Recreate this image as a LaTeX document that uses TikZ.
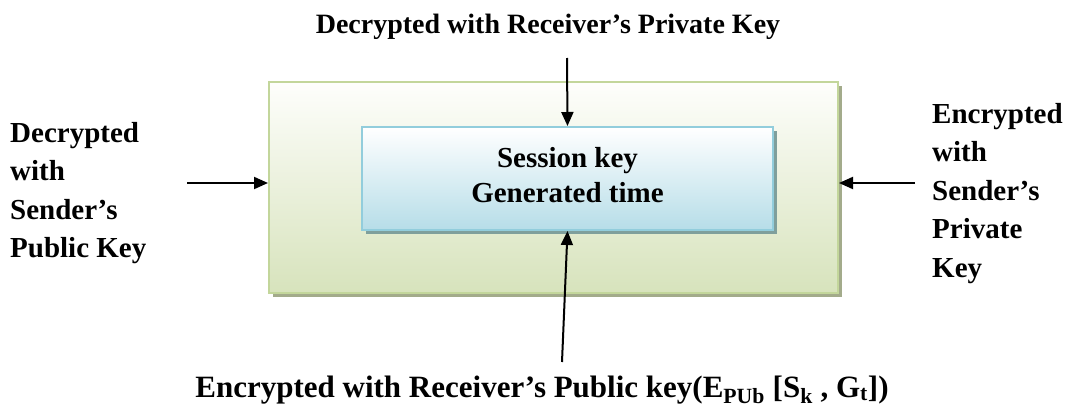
\documentclass[tikz,border=0pt]{standalone}
\usepackage{fontspec}
\setmainfont{Liberation Serif}
\usetikzlibrary{arrows.meta,shadows}
\definecolor{outerborder}{HTML}{C3D69B}
\definecolor{outertop}{HTML}{FEFEFC}
\definecolor{outerbottom}{HTML}{D7E3BC}
\definecolor{outershadow}{HTML}{A3AB8B}
\definecolor{innerborder}{HTML}{92CDDC}
\definecolor{innertop}{HTML}{FFFFFF}
\definecolor{innerbottom}{HTML}{B6DDE8}
\definecolor{innershadow}{HTML}{7F9F9C}
\begin{document}
\begin{tikzpicture}[x=1pt,y=-1pt,
  lbl/.style={font=\fontsize{29}{38.5}\selectfont\bfseries, inner sep=0pt},
  conn/.style={line width=2pt,-{Triangle[length=14pt,width=12pt]}},
  outerbox/.style={draw=outerborder, line width=2pt, top color=outertop, bottom color=outerbottom,
    minimum width=569pt, minimum height=211pt, inner sep=0pt,
    drop shadow={shadow xshift=4pt, shadow yshift=-4pt, fill=outershadow, opacity=1}},
  innerbox/.style={draw=innerborder, line width=2pt, top color=innertop, bottom color=innerbottom,
    minimum width=411pt, minimum height=103pt, inner sep=0pt},
  innershade/.style={drop shadow={shadow xshift=4pt, shadow yshift=-4pt, fill=innershadow, opacity=1}}]
\useasboundingbox (0,0) rectangle (1069,407);
\node[outerbox] (outer) at (553.5,187.5) {};
\node[innerbox, innershade] (inner) at (567.5,178.5) {};
\node[lbl, align=center, font=\fontsize{29}{35}\selectfont\bfseries] (innertext) at (567.5,175) {Session key\\Generated time};
\node[lbl, anchor=base, font=\fontsize{28}{38}\selectfont\bfseries] (toptext) at (548,33) {Decrypted with Receiver’s Private Key};
\node[lbl, anchor=base, font=\fontsize{31}{38}\selectfont\bfseries] (bottomtext) at (542,397) {Encrypted with Receiver’s Public key(E\textsubscript{PUb} [S\textsubscript{k} , G\textsubscript{t}])};
\node[lbl, anchor=north west, align=left] (lefttext) at (10,122) {Decrypted\\with\\Sender’s\\Public Key};
\node[lbl, anchor=north west, align=left] (righttext) at (932,103) {Encrypted\\with\\Sender’s\\Private\\Key};
\coordinate (topstart) at (567,58);
\coordinate (botstart) at (562,362);
\coordinate (lstart) at (187,183);
\coordinate (rstart) at (915,183);
\draw[conn] (topstart) -- (inner.north);
\draw[conn] (botstart) -- (inner.south);
\draw[conn] (lstart) -- (lstart -| outer.west);
\draw[conn] (rstart) -- (rstart -| outer.east);
\end{tikzpicture}
\end{document}
